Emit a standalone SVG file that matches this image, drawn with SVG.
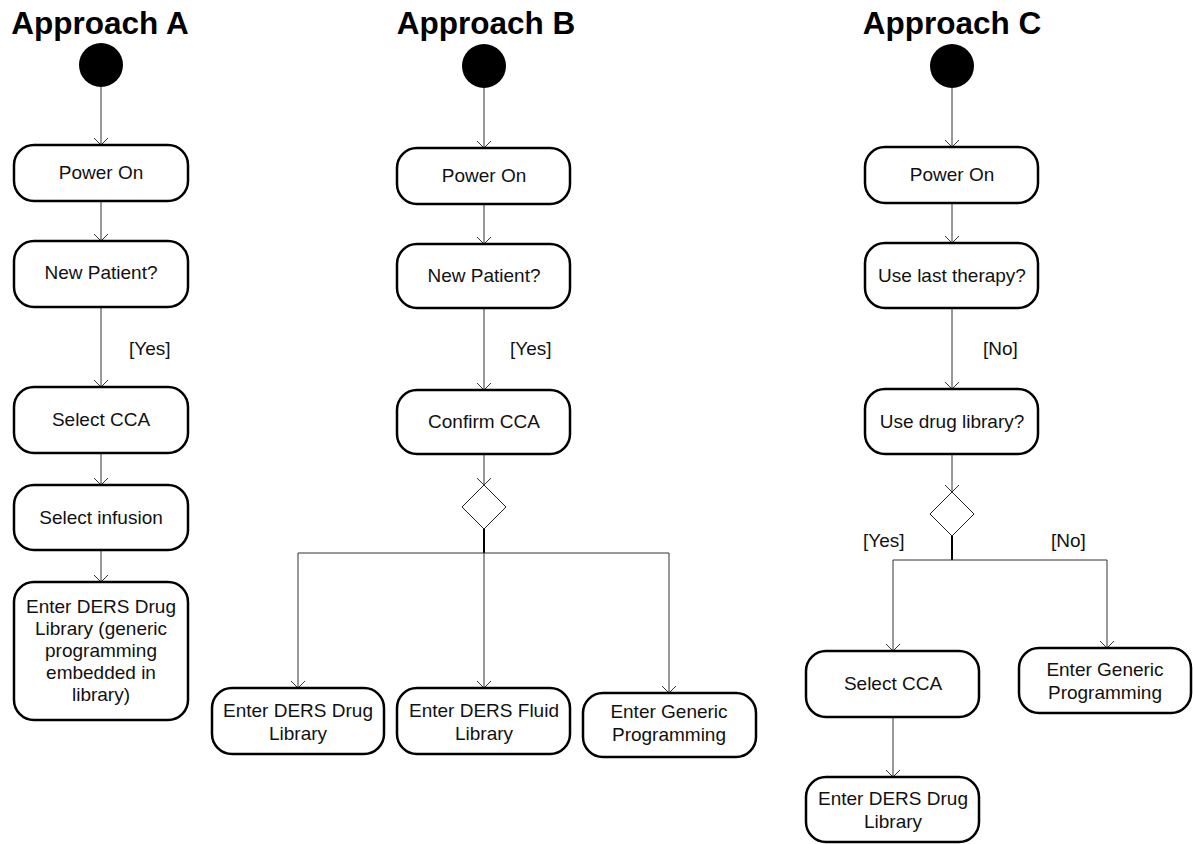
<svg xmlns="http://www.w3.org/2000/svg" width="1193" height="844" viewBox="0 0 1193 844">
<style>
.title{font-family:"Liberation Sans",Arial,sans-serif;font-weight:bold;font-size:31.5px;fill:#000;text-anchor:middle}
.t{font-family:"Liberation Sans",Arial,sans-serif;font-size:19px;fill:#111;text-anchor:middle}
.lbl{font-family:"Liberation Sans",Arial,sans-serif;font-size:19px;fill:#111}
.box{fill:#fff;stroke:#000;stroke-width:2.5}
.dia{fill:#fff;stroke:#222;stroke-width:1}
.c{fill:none;stroke:#333;stroke-width:1;marker-end:url(#arr)}
.cn{fill:none;stroke:#333;stroke-width:1}
.bar{fill:none;stroke:#000;stroke-width:2}
</style>
<defs>
<marker id="arr" viewBox="0 0 7 16" refX="7" refY="8" markerWidth="7" markerHeight="16" markerUnits="userSpaceOnUse" orient="auto">
<path d="M0,1 L7,8 L0,15" fill="none" stroke="#333" stroke-width="1"/>
</marker>
</defs>
<rect width="1193" height="844" fill="#fff"/>
<text class="title" x="100" y="34">Approach A</text>
<text class="title" x="486" y="34">Approach B</text>
<text class="title" x="952" y="34">Approach C</text>

<g id="connectors">
<path class="c" d="M101,87 V145"/>
<path class="c" d="M101,201 V241"/>
<path class="c" d="M101,307 V387"/>
<path class="c" d="M101,453 V485"/>
<path class="c" d="M101,550 V582"/>

<path class="c" d="M484,88 V148"/>
<path class="c" d="M484,204 V244"/>
<path class="c" d="M484,308 V390"/>
<path class="c" d="M484,454 V485"/>
<path class="bar" d="M484,529 V553"/>
<path class="cn" d="M298,553 H669"/>
<path class="c" d="M298,553 V688"/>
<path class="c" d="M484,553 V688"/>
<path class="c" d="M669,553 V693"/>

<path class="c" d="M952,88 V147"/>
<path class="c" d="M952,203 V243"/>
<path class="c" d="M952,308 V389"/>
<path class="c" d="M952,454 V492"/>
<path class="bar" d="M952,536 V560"/>
<path class="cn" d="M893,560 H1107"/>
<path class="c" d="M893,560 V651"/>
<path class="c" d="M1107,560 V648"/>
<path class="c" d="M893,717 V777"/>
<text class="lbl" x="129" y="355">[Yes]</text>
<text class="lbl" x="510" y="355">[Yes]</text>
<text class="lbl" x="983" y="355">[No]</text>
<text class="lbl" x="863" y="547">[Yes]</text>
<text class="lbl" x="1051" y="547">[No]</text>
</g>

<g id="a_start"><circle cx="101" cy="65" r="22" fill="#000"/></g>
<g id="a_power"><rect class="box" x="14" y="145" width="174" height="56" rx="20"/><text class="t" x="101" y="179">Power On</text></g>
<g id="a_newpat"><rect class="box" x="14" y="241" width="174" height="66" rx="20"/><text class="t" x="101" y="279">New Patient?</text></g>
<g id="a_selcca"><rect class="box" x="14" y="387" width="174" height="66" rx="20"/><text class="t" x="101" y="426">Select CCA</text></g>
<g id="a_selinf"><rect class="box" x="14" y="485" width="174" height="65" rx="20"/><text class="t" x="101" y="524">Select infusion</text></g>
<g id="a_ders"><rect class="box" x="14" y="582" width="174" height="138" rx="20"/>
<text class="t" x="101" y="613">Enter DERS Drug</text>
<text class="t" x="101" y="635">Library (generic</text>
<text class="t" x="101" y="657">programming</text>
<text class="t" x="101" y="679">embedded in</text>
<text class="t" x="101" y="701">library)</text></g>

<g id="b_start"><circle cx="484" cy="66" r="22" fill="#000"/></g>
<g id="b_power"><rect class="box" x="397" y="148" width="173" height="56" rx="20"/><text class="t" x="484" y="182">Power On</text></g>
<g id="b_newpat"><rect class="box" x="397" y="244" width="173" height="64" rx="20"/><text class="t" x="484" y="282">New Patient?</text></g>
<g id="b_confirm"><rect class="box" x="397" y="390" width="173" height="64" rx="20"/><text class="t" x="484" y="428">Confirm CCA</text></g>
<g id="b_dec"><polygon class="dia" points="484,485 506,507 484,529 462,507"/></g>
<g id="b_drug"><rect class="box" x="212" y="688" width="172" height="66" rx="20"/><text class="t" x="298" y="717">Enter DERS Drug</text><text class="t" x="298" y="740">Library</text></g>
<g id="b_fluid"><rect class="box" x="397" y="688" width="173" height="66" rx="20"/><text class="t" x="484" y="717">Enter DERS Fluid</text><text class="t" x="484" y="740">Library</text></g>
<g id="b_generic"><rect class="box" x="583" y="693" width="173" height="64" rx="20"/><text class="t" x="669" y="718">Enter Generic</text><text class="t" x="669" y="741">Programming</text></g>

<g id="c_start"><circle cx="952" cy="66" r="22" fill="#000"/></g>
<g id="c_power"><rect class="box" x="865" y="147" width="173" height="56" rx="20"/><text class="t" x="952" y="181">Power On</text></g>
<g id="c_last"><rect class="box" x="865" y="243" width="173" height="65" rx="20"/><text class="t" x="952" y="282">Use last therapy?</text></g>
<g id="c_lib"><rect class="box" x="865" y="389" width="173" height="65" rx="20"/><text class="t" x="952" y="428">Use drug library?</text></g>
<g id="c_dec"><polygon class="dia" points="952,492 974,514 952,536 930,514"/></g>
<g id="c_selcca"><rect class="box" x="806" y="651" width="173" height="66" rx="20"/><text class="t" x="893" y="690">Select CCA</text></g>
<g id="c_generic"><rect class="box" x="1019" y="648" width="172" height="65" rx="20"/><text class="t" x="1105" y="676">Enter Generic</text><text class="t" x="1105" y="699">Programming</text></g>
<g id="c_drug"><rect class="box" x="806" y="777" width="173" height="65" rx="20"/><text class="t" x="893" y="805">Enter DERS Drug</text><text class="t" x="893" y="828">Library</text></g>
</svg>
